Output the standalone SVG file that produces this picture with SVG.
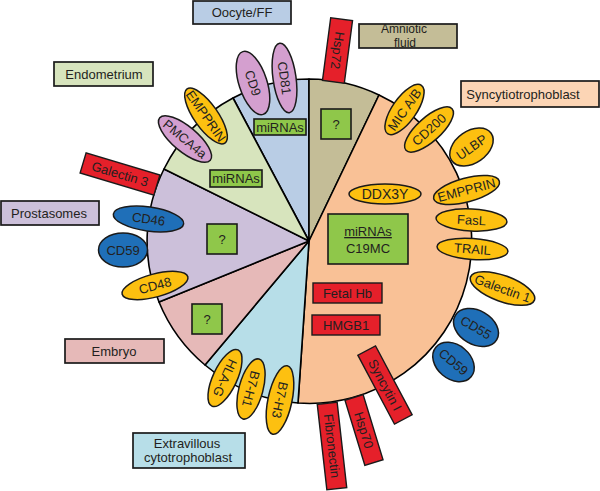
<svg xmlns="http://www.w3.org/2000/svg" width="600" height="491" viewBox="0 0 600 491">
<style>
text{font-family:"Liberation Sans",Arial,sans-serif;font-size:13px;fill:#231f20;text-anchor:middle}
.sec{stroke:#000;stroke-width:1.6;stroke-linejoin:round}
.box{stroke:#1a1a1a;stroke-width:1.7}
.g{fill:#8fc74a;stroke:#1a1a1a;stroke-width:1.6}
.r{fill:#e5202a;stroke:#1a1a1a;stroke-width:1.4}
.y{fill:#fdc010;stroke:#1a1a1a;stroke-width:1.5}
.p{fill:#d49fcf;stroke:#1a1a1a;stroke-width:1.5}
.b{fill:#1f6fb8;stroke:#1a1a1a;stroke-width:1.5}
</style>
<rect width="600" height="491" fill="#fff"/>
<g id="sectors">
<path class="sec" fill="#b9cde5" d="M309 241 L233 98 A162 162 0 0 1 309 79 Z"/>
<path class="sec" fill="#c4bd97" d="M309 241 L309 79 A162 162 0 0 1 379 95 Z"/>
<path class="sec" fill="#f9c196" d="M309 241 L379 95 A162 162 0 0 1 298 403 Z"/>
<path class="sec" fill="#b7dee8" d="M309 241 L298 403 A162 162 0 0 1 205 365 Z"/>
<path class="sec" fill="#e6b9b8" d="M309 241 L205 365 A162 162 0 0 1 159 302 Z"/>
<path class="sec" fill="#ccc0da" d="M309 241 L159 302 A162 162 0 0 1 164 169 Z"/>
<path class="sec" fill="#d7e4bd" d="M309 241 L164 169 A162 162 0 0 1 233 98 Z"/>
</g>
<g id="labels">
<g id="oocyte"><rect class="box" fill="#b9cde5" x="193" y="1" width="98" height="23"/><text x="242" y="17">Oocyte/FF</text></g>
<g id="endometrium"><rect class="box" fill="#d7e4bd" x="54" y="62" width="99" height="24"/><text x="104" y="79">Endometrium</text></g>
<g id="amniotic"><rect class="box" fill="#c4bd97" x="359" y="24" width="98" height="24"/><text x="404" y="33" style="font-size:12px">Amniotic</text><text x="405" y="46.5" style="font-size:12px">fluid</text></g>
<g id="syncytio"><rect class="box" fill="#fcd5b5" x="461" y="81" width="138" height="26"/><text x="523" y="99">Syncytiotrophoblast</text></g>
<g id="prostasomes"><rect class="box" fill="#ccc0da" x="1" y="201" width="98" height="24"/><text x="49" y="218">Prostasomes</text></g>
<g id="embryo"><rect class="box" fill="#e6b9b8" x="65" y="339" width="99" height="24"/><text x="114" y="356">Embryo</text></g>
<g id="evt"><rect class="box" fill="#b7dee8" x="133" y="433" width="112" height="35"/><text x="187" y="448">Extravillous</text><text x="188" y="462">cytotrophoblast</text></g>
</g>
<g id="markers">
<g id="m1"><rect class="g" x="254" y="119" width="52" height="16"/><text x="280" y="132">miRNAs</text></g>
<g id="m2"><rect class="g" x="321" y="109" width="30" height="30"/><text x="336" y="129">?</text></g>
<g id="m3"><rect class="g" x="210" y="170" width="52" height="17"/><text x="236" y="183">miRNAs</text></g>
<g id="m4"><rect class="g" x="207" y="224" width="30" height="30"/><text x="222" y="244">?</text></g>
<g id="m5"><rect class="g" x="192" y="304" width="30" height="30"/><text x="207" y="324">?</text></g>
<g id="m6"><rect class="g" x="328" y="214" width="80" height="50"/><text x="368" y="236" text-decoration="underline">miRNAs</text><text x="368" y="253">C19MC</text></g>
</g>
<g id="red">
<g id="fetalhb"><rect class="r" x="313" y="283" width="69" height="20"/><text x="347.5" y="298">Fetal Hb</text></g>
<g id="hmgb1"><rect class="r" x="312" y="315" width="68" height="20"/><text x="346" y="330">HMGB1</text></g>
<g id="hsp72" transform="translate(337.5 50.5) rotate(97.5)"><rect class="r" x="-31.5" y="-11" width="63" height="22"/><text y="4.6">Hsp72</text></g>
<g id="galectin3" transform="translate(120 174) rotate(16.6)"><rect class="r" x="-38.5" y="-10.5" width="77" height="21"/><text y="4.6">Galectin 3</text></g>
<g id="fibronectin" transform="translate(332 446) rotate(83.6)"><rect class="r" x="-43" y="-10" width="86" height="20"/><text y="4.6">Fibronectin</text></g>
<g id="hsp70" transform="translate(364 430) rotate(73)"><rect class="r" x="-34" y="-9.5" width="68" height="19"/><text y="4.6">Hsp70</text></g>
<g id="syncytin" transform="translate(385 385) rotate(62)"><rect class="r" x="-39" y="-10" width="78" height="20"/><text y="4.6">Syncytin I</text></g>
</g>
<g id="ellipses">
<g id="cd9" transform="translate(253 83) rotate(72)"><ellipse class="p" rx="33" ry="14"/><text y="4.6">CD9</text></g>
<g id="cd81" transform="translate(284.5 78) rotate(82)"><ellipse class="p" rx="35" ry="11.5"/><text y="4.6">CD81</text></g>
<g id="pmca4a" transform="translate(185 139) rotate(40)"><ellipse class="p" rx="33" ry="12.5"/><text y="4.6">PMCA4a</text></g>
<g id="empprin1" transform="translate(206 116) rotate(55)"><ellipse class="y" rx="33" ry="12"/><text y="4.6">EMPPRIN</text></g>
<g id="micab" transform="translate(404.5 109.5) rotate(-55)"><ellipse class="y" rx="29.5" ry="12"/><text y="4.6">MIC A/B</text></g>
<g id="cd200" transform="translate(429 129.5) rotate(-42)"><ellipse class="y" rx="31" ry="12"/><text y="4.6">CD200</text></g>
<g id="ulbp" transform="translate(471.5 147) rotate(-35)"><ellipse class="y" rx="24" ry="16"/><text y="4.6">ULBP</text></g>
<g id="empprin2" transform="translate(466.5 190) rotate(-15)"><ellipse class="y" rx="34" ry="12"/><text y="4.6">EMPPRIN</text></g>
<g id="fasl" transform="translate(471.5 220) rotate(3)"><ellipse class="y" rx="35.5" ry="11"/><text y="4.6">FasL</text></g>
<g id="trail" transform="translate(472.5 249) rotate(4)"><ellipse class="y" rx="35.5" ry="10.5"/><text y="4.6">TRAIL</text></g>
<g id="galectin1" transform="translate(502.5 288.5) rotate(20)"><ellipse class="y" rx="34" ry="13"/><text y="4.6">Galectin 1</text></g>
<g id="ddx3y" transform="translate(385 194)"><ellipse class="y" rx="36" ry="10"/><text y="5" style="font-size:14px">DDX3Y</text></g>
<g id="cd48" transform="translate(155 285.5) rotate(-15)"><ellipse class="y" rx="34" ry="11.5"/><text y="4.6">CD48</text></g>
<g id="hlag" transform="translate(225 378) rotate(115)"><ellipse class="y" rx="31" ry="12"/><text y="4.6">HLA-G</text></g>
<g id="b7h1" transform="translate(251 389) rotate(105)"><ellipse class="y" rx="31" ry="12"/><text y="4.6">B7-H1</text></g>
<g id="b7h3" transform="translate(280 400) rotate(102)"><ellipse class="y" rx="35" ry="12"/><text y="4.6">B7-H3</text></g>
<g id="cd46" transform="translate(148.5 219) rotate(8)"><ellipse class="b" rx="35.5" ry="12"/><text y="4.6">CD46</text></g>
<g id="cd59a" transform="translate(123 250)"><ellipse class="b" rx="24.5" ry="17"/><text y="4.6">CD59</text></g>
<g id="cd55" transform="translate(476 327.5) rotate(30)"><ellipse class="b" rx="24" ry="17"/><text y="4.6">CD55</text></g>
<g id="cd59b" transform="translate(453.5 362) rotate(40)"><ellipse class="b" rx="23" ry="17"/><text y="4.6">CD59</text></g>
</g>
</svg>
